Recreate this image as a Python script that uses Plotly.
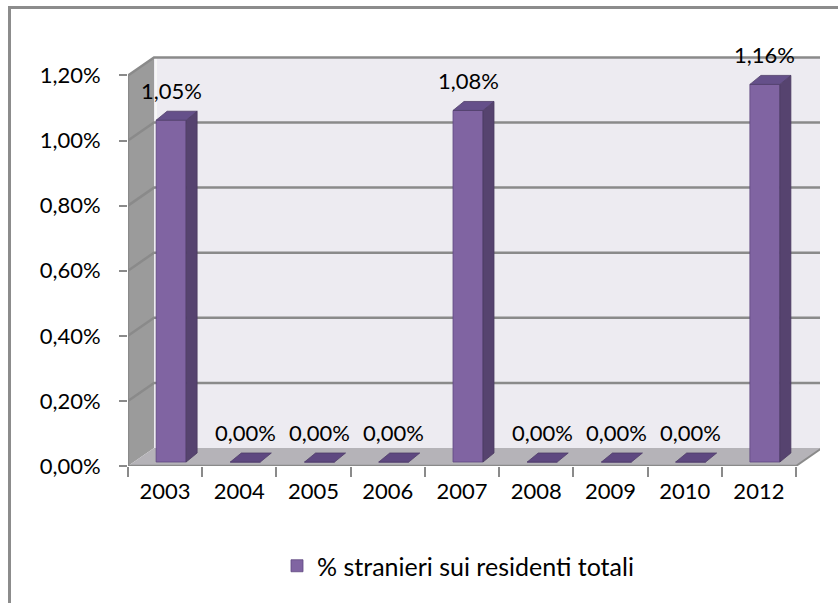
import plotly.graph_objects as go

# Share of foreign residents over total residents, by year
years = ["2003", "2004", "2005", "2006", "2007", "2008", "2009", "2010", "2012"]
share_pct = [1.05, 0.00, 0.00, 0.00, 1.08, 0.00, 0.00, 0.00, 1.16]
y_ticks = [0.0, 0.2, 0.4, 0.6, 0.8, 1.0, 1.2]
series_name = "% stranieri sui residenti totali"


def pct_it(v):
    return f"{v:.2f}%".replace(".", ",")


FONT = "Lato"
W, H = 838, 603
M_L, M_R, M_T, M_B = 128, 18, 30, 137
PLOT_W = W - M_L - M_R
PLOT_H = H - M_T - M_B

# axis scales (pixels per data unit)
PX_X = 668 / len(years)
PX_Y = 325.5
X_MIN = -0.5
X_MAX = X_MIN + PLOT_W / PX_X
Y_MAX = PLOT_H / PX_Y
Y_TOP = y_ticks[-1]

# pseudo-3D depth of walls and of the columns
DX, DY = 26 / PX_X, 18 / PX_Y
BDX, BDY = 11 / PX_X, 9 / PX_Y
BAR_W = 30 / PX_X
BAR_SHIFT = 6 / PX_X
BAR_BASE = 4 / PX_Y

C_FRONT = "#8064A2"
C_SIDE = "#56436F"
C_TOP = "#65508A"
C_WALL = "#EDEBF1"
C_SIDEWALL = "#9B9B9B"
C_FLOOR = "#B5B3B8"
C_GRID = "#8A8A8A"

x_left = X_MIN
x_right = len(years) - 0.5


def poly(pts):
    return "M " + " L ".join(f"{x},{y}" for x, y in pts) + " Z"


shapes = []
# back wall
shapes.append(dict(type="path", xref="x", yref="y", layer="below",
                   path=poly([(x_left + DX, DY), (x_right + DX, DY),
                              (x_right + DX, Y_TOP + DY), (x_left + DX, Y_TOP + DY)]),
                   fillcolor=C_WALL, line=dict(width=0)))
# left side wall
shapes.append(dict(type="path", xref="x", yref="y", layer="below",
                   path=poly([(x_left, 0), (x_left + DX, DY),
                              (x_left + DX, Y_TOP + DY), (x_left, Y_TOP)]),
                   fillcolor=C_SIDEWALL, line=dict(width=0)))
# light edge where the side wall meets the back wall
shapes.append(dict(type="line", xref="x", yref="y", layer="below",
                   x0=x_left + DX + 2 / PX_X, x1=x_left + DX + 2 / PX_X,
                   y0=DY, y1=Y_TOP + DY, line=dict(color="#F7F7F7", width=2)))
# floor
shapes.append(dict(type="path", xref="x", yref="y", layer="below",
                   path=poly([(x_left, 0), (x_right, 0),
                              (x_right + DX, DY), (x_left + DX, DY)]),
                   fillcolor=C_FLOOR, line=dict(width=0)))
# gridlines on side wall and back wall
for v in y_ticks[1:]:
    shapes.append(dict(type="path", xref="x", yref="y", layer="below",
                       path=f"M {x_left},{v} L {x_left + DX},{v + DY} L {x_right + DX},{v + DY}",
                       line=dict(color=C_GRID, width=2.5)))
# floor right edge
shapes.append(dict(type="line", xref="x", yref="y", layer="below",
                   x0=x_right, y0=0, x1=x_right + DX, y1=DY,
                   line=dict(color=C_GRID, width=2)))
# front axis lines
shapes.append(dict(type="line", xref="x", yref="y", layer="below",
                   x0=x_left, y0=0, x1=x_left, y1=Y_TOP,
                   line=dict(color=C_GRID, width=2.5)))
shapes.append(dict(type="line", xref="x", yref="y", layer="below",
                   x0=x_left, y0=0, x1=x_right, y1=0,
                   line=dict(color=C_GRID, width=2.5)))

# side and top faces of each column
bar_off = BAR_SHIFT - BAR_W / 2
for i, v in enumerate(share_pct):
    xl = i + bar_off
    xr = xl + BAR_W
    b = BAR_BASE
    t = BAR_BASE + v
    if v > 0:
        shapes.append(dict(type="path", xref="x", yref="y", layer="above",
                           path=poly([(xr, b), (xr + BDX, b + BDY),
                                      (xr + BDX, t + BDY), (xr, t)]),
                           fillcolor=C_SIDE, line=dict(color="#4A3A60", width=0.8)))
    shapes.append(dict(type="path", xref="x", yref="y", layer="above",
                       path=poly([(xl, t), (xr, t), (xr + BDX, t + BDY), (xl + BDX, t + BDY)]),
                       fillcolor=C_TOP if v > 0 else "#5E4880",
                       line=dict(color="#4F3D68", width=0.8)))

# chart frame
def px_to_paper_x(px):
    return (px - M_L) / PLOT_W


def px_to_paper_y(py):
    return (H - M_B - py) / PLOT_H


shapes.append(dict(type="path", xref="paper", yref="paper", layer="above",
                   path=f"M {px_to_paper_x(9.5)},{px_to_paper_y(610)} "
                        f"L {px_to_paper_x(9.5)},{px_to_paper_y(7.5)} "
                        f"L {px_to_paper_x(845)},{px_to_paper_y(7.5)}",
                   line=dict(color="#8C8C8C", width=3)))

# value labels above each column
annotations = []
for i, v in enumerate(share_pct):
    annotations.append(dict(x=i + BAR_SHIFT, y=BAR_BASE + v + BDY, xref="x", yref="y",
                            text=pct_it(v), showarrow=False, yanchor="middle",
                            yshift=21, font=dict(family=FONT, size=22, color="#000000")))

fig = go.Figure()
fig.add_trace(go.Bar(
    x=years, y=share_pct, base=BAR_BASE, width=BAR_W, offset=bar_off,
    name=series_name, marker=dict(color=C_FRONT, line=dict(color="#5E4880", width=0.8)),
    showlegend=True, hoverinfo="skip",
))

fig.update_layout(
    width=W, height=H,
    margin=dict(l=M_L, r=M_R, t=M_T, b=M_B, autoexpand=False),
    paper_bgcolor="#FFFFFF", plot_bgcolor="rgba(0,0,0,0)",
    font=dict(family=FONT, size=22, color="#000000"),
    shapes=shapes, annotations=annotations,
    showlegend=True,
    legend=dict(orientation="h", x=px_to_paper_x(458), xanchor="center",
                y=px_to_paper_y(566), yanchor="middle",
                font=dict(family=FONT, size=25, color="#000000"),
                bgcolor="rgba(0,0,0,0)", itemwidth=30),
    xaxis=dict(type="category", range=[X_MIN, X_MAX], tickson="boundaries",
               ticks="outside", ticklen=10, tickwidth=2, tickcolor=C_GRID,
               showgrid=False, showline=False, zeroline=False,
               ticklabelstandoff=10, automargin=False, fixedrange=True),
    yaxis=dict(range=[0, Y_MAX], tickvals=y_ticks, ticktext=[pct_it(v) for v in y_ticks],
               ticks="outside", ticklen=8, tickwidth=2, tickcolor=C_GRID,
               showgrid=False, showline=False, zeroline=False,
               ticklabelstandoff=14, automargin=False, fixedrange=True),
)

fig.write_html("out.html")
